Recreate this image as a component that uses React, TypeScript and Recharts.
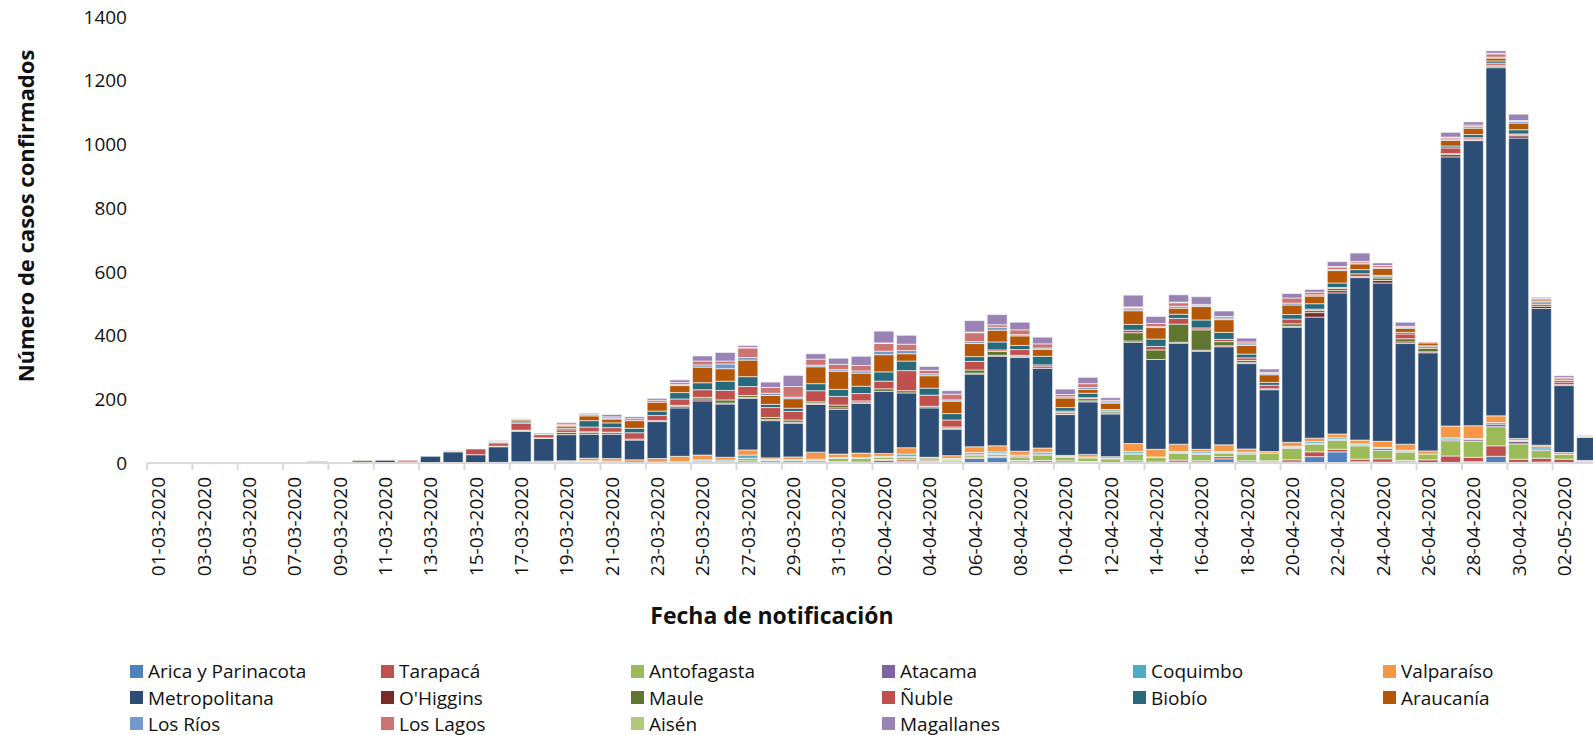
import { BarChart, Bar, XAxis, YAxis, Legend } from "recharts";

const FONT = "'Open Sans', 'Liberation Sans', sans-serif";

const dates = [
  "01-03-2020", "02-03-2020", "03-03-2020", "04-03-2020", "05-03-2020", "06-03-2020", "07-03-2020", "08-03-2020",
  "09-03-2020", "10-03-2020", "11-03-2020", "12-03-2020", "13-03-2020", "14-03-2020", "15-03-2020", "16-03-2020",
  "17-03-2020", "18-03-2020", "19-03-2020", "20-03-2020", "21-03-2020", "22-03-2020", "23-03-2020", "24-03-2020",
  "25-03-2020", "26-03-2020", "27-03-2020", "28-03-2020", "29-03-2020", "30-03-2020", "31-03-2020", "01-04-2020",
  "02-04-2020", "03-04-2020", "04-04-2020", "05-04-2020", "06-04-2020", "07-04-2020", "08-04-2020", "09-04-2020",
  "10-04-2020", "11-04-2020", "12-04-2020", "13-04-2020", "14-04-2020", "15-04-2020", "16-04-2020", "17-04-2020",
  "18-04-2020", "19-04-2020", "20-04-2020", "21-04-2020", "22-04-2020", "23-04-2020", "24-04-2020", "25-04-2020",
  "26-04-2020", "27-04-2020", "28-04-2020", "29-04-2020", "30-04-2020", "01-05-2020", "02-05-2020", "03-05-2020",
];

const yTicks = [0, 200, 400, 600, 800, 1000, 1200, 1400];

// casos por región, un valor por día (01-03 a 03-05)
const arica = [
  0, 0, 0, 0, 0, 0, 0, 0, 0, 0, 0, 0, 0, 0, 0, 0,
  0, 0, 0, 2, 0, 0, 0, 0, 0, 0, 3, 0, 0, 0, 0, 0,
  8, 4, 5, 4, 14, 17, 4, 3, 3, 2, 0, 3, 0, 3, 3, 13,
  3, 4, 3, 20, 35, 4, 3, 4, 0, 2, 4, 21, 2, 3, 0, 0,
];
const tarapaca = [
  0, 0, 0, 0, 0, 0, 0, 0, 0, 0, 0, 0, 0, 0, 0, 0,
  0, 0, 0, 0, 0, 0, 0, 0, 3, 0, 4, 2, 0, 3, 4, 3,
  3, 6, 4, 3, 4, 4, 4, 5, 4, 3, 2, 4, 3, 6, 4, 7,
  4, 3, 7, 15, 8, 8, 10, 4, 10, 20, 14, 33, 10, 12, 12, 3,
];
const antofagasta = [
  0, 0, 0, 0, 0, 0, 0, 0, 0, 0, 0, 0, 0, 0, 0, 0,
  0, 0, 4, 3, 3, 0, 3, 2, 4, 4, 8, 6, 8, 5, 10, 11,
  7, 8, 7, 4, 7, 6, 11, 17, 11, 11, 11, 21, 14, 21, 20, 11,
  21, 24, 36, 24, 28, 42, 27, 26, 18, 48, 51, 60, 48, 24, 15, 3,
];
const atacama = [
  0, 0, 0, 0, 0, 0, 0, 0, 0, 0, 0, 0, 0, 0, 0, 0,
  0, 0, 0, 0, 0, 0, 0, 0, 0, 0, 0, 0, 0, 0, 0, 0,
  0, 3, 0, 0, 3, 3, 3, 3, 0, 0, 0, 3, 0, 3, 3, 2,
  3, 0, 3, 3, 3, 3, 6, 3, 0, 5, 5, 8, 8, 5, 0, 0,
];
const coquimbo = [
  0, 0, 0, 0, 0, 0, 0, 0, 0, 0, 0, 0, 0, 0, 0, 0,
  0, 2, 0, 2, 3, 0, 0, 2, 3, 5, 10, 3, 3, 4, 3, 3,
  3, 7, 0, 3, 5, 5, 3, 6, 3, 3, 2, 5, 2, 3, 5, 3,
  3, 0, 3, 5, 5, 3, 3, 3, 0, 4, 3, 5, 3, 7, 0, 0,
];
const valparaiso = [
  0, 0, 0, 0, 0, 0, 0, 0, 0, 0, 0, 0, 0, 0, 0, 2,
  4, 4, 3, 8, 8, 10, 11, 17, 15, 9, 16, 5, 8, 22, 11, 14,
  9, 20, 2, 9, 18, 19, 12, 13, 3, 8, 5, 25, 24, 23, 8, 21,
  10, 5, 13, 11, 12, 12, 19, 19, 10, 37, 40, 21, 6, 5, 6, 2,
];
const metropolitana = [
  0, 0, 0, 0, 0, 0, 0, 2, 0, 7, 9, 6, 21, 35, 26, 49,
  96, 71, 82, 75, 76, 62, 116, 152, 170, 167, 162, 117, 106, 150, 140, 156,
  195, 172, 155, 83, 228, 281, 294, 250, 128, 165, 134, 318, 282, 317, 308, 308,
  268, 194, 361, 380, 443, 510, 497, 316, 308, 845, 895, 1093, 943, 429, 210, 72,
];
const ohiggins = [
  0, 0, 0, 0, 0, 0, 0, 0, 0, 0, 0, 0, 0, 0, 0, 0,
  1, 0, 0, 5, 5, 0, 0, 5, 6, 3, 3, 3, 3, 3, 5, 4,
  0, 0, 0, 3, 3, 3, 3, 5, 2, 3, 3, 4, 0, 3, 3, 3,
  3, 0, 3, 14, 7, 0, 8, 5, 3, 7, 2, 4, 7, 7, 3, 0,
];
const maule = [
  0, 0, 0, 0, 0, 0, 0, 3, 0, 2, 0, 0, 0, 0, 0, 2,
  2, 2, 7, 3, 2, 3, 3, 3, 5, 10, 6, 7, 7, 5, 9, 4,
  8, 7, 5, 4, 10, 12, 4, 0, 5, 7, 4, 26, 30, 57, 64, 13,
  7, 3, 8, 7, 7, 3, 8, 10, 11, 3, 3, 4, 3, 6, 0, 0,
];
const nuble = [
  0, 0, 0, 0, 0, 0, 0, 0, 0, 0, 2, 3, 0, 0, 18, 10,
  22, 10, 8, 15, 14, 20, 16, 20, 24, 30, 28, 31, 27, 35, 27, 23,
  24, 63, 35, 22, 27, 5, 18, 6, 4, 3, 3, 8, 11, 18, 6, 7,
  8, 11, 15, 4, 3, 9, 4, 15, 5, 18, 4, 6, 3, 5, 8, 3,
];
const biobio = [
  0, 0, 0, 0, 0, 0, 0, 0, 0, 0, 0, 0, 0, 0, 0, 2,
  4, 2, 5, 20, 15, 14, 14, 20, 22, 29, 31, 10, 10, 22, 22, 23,
  29, 30, 22, 20, 15, 25, 13, 27, 11, 14, 4, 18, 23, 13, 25, 22,
  12, 9, 14, 17, 14, 13, 4, 5, 3, 6, 10, 7, 13, 4, 5, 0,
];
const araucania = [
  0, 0, 0, 0, 0, 0, 0, 0, 0, 0, 0, 0, 0, 0, 0, 2,
  6, 0, 7, 15, 12, 24, 28, 22, 49, 39, 52, 28, 30, 53, 57, 41,
  54, 23, 39, 39, 41, 37, 30, 22, 30, 12, 20, 43, 36, 19, 42, 40,
  27, 24, 30, 24, 39, 18, 22, 13, 9, 18, 20, 9, 21, 5, 5, 2,
];
const losRios = [
  0, 0, 0, 0, 0, 0, 0, 0, 0, 0, 0, 0, 0, 0, 0, 0,
  0, 0, 2, 0, 3, 0, 0, 4, 7, 15, 8, 7, 5, 5, 5, 7,
  11, 10, 6, 4, 6, 9, 4, 4, 4, 6, 4, 6, 3, 6, 3, 5,
  5, 4, 6, 4, 3, 3, 3, 3, 0, 4, 5, 3, 5, 0, 0, 0,
];
const losLagos = [
  0, 0, 0, 0, 1, 0, 0, 0, 0, 0, 1, 0, 0, 2, 0, 2,
  2, 0, 4, 4, 4, 6, 6, 6, 12, 9, 30, 18, 33, 19, 17, 17,
  24, 20, 11, 18, 28, 8, 15, 13, 7, 12, 5, 4, 10, 11, 4, 5,
  6, 4, 16, 8, 8, 5, 6, 3, 3, 4, 5, 10, 3, 4, 4, 2,
];
const aisen = [
  0, 0, 0, 0, 0, 0, 0, 0, 0, 0, 0, 0, 0, 0, 0, 0,
  0, 0, 0, 0, 0, 0, 0, 0, 0, 0, 2, 0, 0, 0, 0, 0,
  2, 0, 0, 0, 2, 0, 0, 0, 0, 0, 0, 2, 0, 2, 0, 0,
  0, 0, 0, 0, 2, 0, 0, 0, 0, 2, 0, 2, 0, 0, 0, 0,
];
const magallanes = [
  0, 0, 0, 0, 0, 0, 0, 0, 0, 0, 0, 0, 0, 2, 0, 2,
  2, 3, 5, 4, 7, 6, 6, 8, 16, 27, 6, 17, 35, 17, 19, 29,
  37, 28, 12, 11, 36, 32, 24, 21, 17, 20, 8, 37, 22, 23, 24, 17,
  12, 10, 14, 9, 15, 26, 8, 13, 0, 15, 10, 8, 20, 4, 6, 0,
];

const SERIES = [
  { key: "arica", name: "Arica y Parinacota", color: "#4F81BD", values: arica },
  { key: "tarapaca", name: "Tarapacá", color: "#C0504D", values: tarapaca },
  { key: "antofagasta", name: "Antofagasta", color: "#9BBB59", values: antofagasta },
  { key: "atacama", name: "Atacama", color: "#8064A2", values: atacama },
  { key: "coquimbo", name: "Coquimbo", color: "#4BACC6", values: coquimbo },
  { key: "valparaiso", name: "Valparaíso", color: "#F79646", values: valparaiso },
  { key: "metropolitana", name: "Metropolitana", color: "#2C4D75", values: metropolitana },
  { key: "ohiggins", name: "O'Higgins", color: "#772C2A", values: ohiggins },
  { key: "maule", name: "Maule", color: "#5F7530", values: maule },
  { key: "nuble", name: "Ñuble", color: "#C0504D", values: nuble },
  { key: "biobio", name: "Biobío", color: "#276A7C", values: biobio },
  { key: "araucania", name: "Araucanía", color: "#B65708", values: araucania },
  { key: "losRios", name: "Los Ríos", color: "#729ACA", values: losRios },
  { key: "losLagos", name: "Los Lagos", color: "#CD7371", values: losLagos },
  { key: "aisen", name: "Aisén", color: "#AFC97A", values: aisen },
  { key: "magallanes", name: "Magallanes", color: "#9983B5", values: magallanes },
];

const chartData = dates.map((date, i) => {
  const row: Record<string, string | number> = { date };
  SERIES.forEach((s) => {
    row[s.key] = s.values[i];
  });
  return row;
});

const PLOT_WIDTH = 1451;
const BAND = PLOT_WIDTH / dates.length;

const DateTick = ({ x, y, payload }: any) => {
  const ty = y + 14;
  return (
    <g>
      <line x1={x - BAND / 2} x2={x - BAND / 2} y1={y} y2={y + 7} stroke="#d9d9d9" strokeWidth={2} />
      <text
        x={x}
        y={ty}
        transform={`rotate(-90, ${x}, ${ty})`}
        textAnchor="end"
        dominantBaseline="central"
        fontSize={19}
        fontFamily={FONT}
        fill="#111"
      >
        {payload.value}
      </text>
    </g>
  );
};

const LEGEND_COLS = [130, 381, 631, 882, 1133, 1383];
const LEGEND_ROWS = [671, 697.5, 723.5];

const renderLegend = () => (
  <div style={{ position: "relative", width: 1593, height: 0 }}>
    {SERIES.map((s, i) => {
      const left = LEGEND_COLS[i % 6];
      const cy = LEGEND_ROWS[Math.floor(i / 6)];
      return (
        <div key={s.key}>
          <span
            style={{
              position: "absolute",
              left,
              top: cy - 6.5,
              width: 13,
              height: 13,
              background: s.color,
            }}
          />
          <span
            style={{
              position: "absolute",
              left: left + 18,
              top: cy - 10,
              lineHeight: "20px",
              fontSize: 19,
              fontFamily: FONT,
              color: "#111",
              whiteSpace: "nowrap",
            }}
          >
            {s.name}
          </span>
        </div>
      );
    })}
  </div>
);

export default function App() {
  return (
    <div
      style={{
        position: "absolute",
        left: 0,
        top: 0,
        width: 1593,
        height: 735,
        overflow: "hidden",
        background: "#fff",
      }}
    >
      <BarChart
        width={1600}
        height={735}
        data={chartData}
        margin={{ top: 17, right: 2, left: 0, bottom: 152 }}
        barCategoryGap="6%"
      >
        <XAxis
          dataKey="date"
          interval={1}
          height={120}
          tickSize={0}
          tickMargin={0}
          tickLine={false}
          axisLine={{ stroke: "#d9d9d9", strokeWidth: 2 }}
          tick={<DateTick />}
          label={{
            content: () => (
              <text
                x={772}
                y={615}
                textAnchor="middle"
                dominantBaseline="central"
                fontSize={23}
                fontWeight="bold"
                fontFamily={FONT}
                fill="#111"
              >
                Fecha de notificación
              </text>
            ),
          }}
        />
        <YAxis
          width={147}
          domain={[0, 1400]}
          ticks={yTicks}
          tickSize={0}
          tickMargin={20}
          tickLine={false}
          axisLine={false}
          tick={{ fontSize: 19, fontFamily: FONT, fill: "#111" }}
          label={{
            content: () => (
              <text
                x={25}
                y={216}
                transform="rotate(-90, 25, 216)"
                textAnchor="middle"
                dominantBaseline="central"
                fontSize={22}
                fontWeight="bold"
                fontFamily={FONT}
                fill="#111"
              >
                Número de casos confirmados
              </text>
            ),
          }}
        />
        <Legend
          content={renderLegend}
          wrapperStyle={{ position: "absolute", left: 0, top: 0, width: 1593, height: 0 }}
        />
        {SERIES.map((s) => (
          <Bar
            key={s.key}
            dataKey={s.key}
            name={s.name}
            stackId="casos"
            fill={s.color}
            stroke="#ffffff"
            strokeOpacity={0.6}
            strokeWidth={1}
            isAnimationActive={false}
          />
        ))}
      </BarChart>
    </div>
  );
}
